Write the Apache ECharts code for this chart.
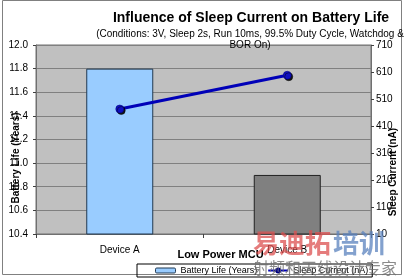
<!DOCTYPE html>
<html><head><meta charset="utf-8">
<script src="https://cdn.jsdelivr.net/npm/echarts@6/dist/echarts.min.js"></script>
<style>html,body{margin:0;padding:0;background:#fff}#c{width:404px;height:279px}</style>
</head><body><div id="c"></div>
<script>
const categories = ['Device A', 'Device B'];
const batteryLife = [11.8, 10.9];
const sleepCurrent = [473, 598];
const barColors = ['#99ccff', '#808080'];
const barBorders = ['#203850', '#202020'];

const chart = echarts.init(document.getElementById('c'), null, {renderer: 'canvas'});
const F = 'Liberation Sans, Arial, sans-serif';
chart.setOption({
  animation: false,
  backgroundColor: '#fff',
  textStyle: {fontFamily: F},
  title: [
    {text: 'Influence of Sleep Current on Battery Life', left: 246, top: 6, textAlign: 'center',
     textStyle: {fontSize: 14, fontWeight: 'bold', color: '#000', fontFamily: F}},
    {text: '(Conditions: 3V, Sleep 2s, Run 10ms, 99.5% Duty Cycle, Watchdog &\nBOR On)', left: 245, top: 24, textAlign: 'center',
     textStyle: {fontSize: 10, fontWeight: 'normal', color: '#000', lineHeight: 11, fontFamily: F}}
  ],
  grid: {left: 36, right: 33, top: 45, bottom: 45, containLabel: false, outerBoundsMode: 'none',
         show: true, backgroundColor: '#c0c0c0', borderColor: '#707070', borderWidth: 1},
  legend: {
    left: 137, top: 264, orient: 'horizontal', borderColor: '#000', borderWidth: 1, padding: [2, 4, 2, 18], itemGap: 10,
    itemWidth: 20, itemHeight: 5, textStyle: {fontSize: 9, color: '#000', fontFamily: F},
    data: [
      {name: 'Battery Life (Years)', itemStyle: {color: '#99ccff', borderColor: '#203850', borderWidth: 1}},
      {name: 'Sleep Current (nA)'}
    ]
  },
  xAxis: {
    type: 'category', data: categories, boundaryGap: true,
    axisLine: {show: true, lineStyle: {color: '#707070'}},
    axisTick: {show: true, inside: false, length: 4, lineStyle: {color: '#404040'}},
    axisLabel: {fontSize: 10, color: '#000', margin: 11},
    name: 'Low Power MCU', nameLocation: 'middle', nameGap: 15, nameMoveOverlap: false,
    nameTextStyle: {fontSize: 11, fontWeight: 'bold', color: '#000', padding: [0, 0, 0, 34]}
  },
  yAxis: [
    {type: 'value', min: 10.4, max: 12.0, interval: 0.2, position: 'left',
     axisLine: {show: true, lineStyle: {color: '#707070'}},
     axisTick: {show: true, inside: false, length: 3, lineStyle: {color: '#404040'}},
     axisLabel: {fontSize: 10, color: '#000', margin: 8, formatter: v => v.toFixed(1)},
     splitLine: {show: true, lineStyle: {color: '#808080', width: 1}}},
    {type: 'value', min: 10, max: 710, interval: 100, position: 'right',
     axisLine: {show: true, lineStyle: {color: '#707070'}},
     axisTick: {show: true, inside: false, length: 3, lineStyle: {color: '#404040'}},
     axisLabel: {fontSize: 10, color: '#000', margin: 5},
     splitLine: {show: false}}
  ],
  series: [
    {name: 'Battery Life (Years)', type: 'bar', yAxisIndex: 0, barWidth: '40%',
     data: batteryLife.map((v, i) => ({value: v, itemStyle: {color: barColors[i], borderColor: barBorders[i], borderWidth: 1}})),
     itemStyle: {color: '#99ccff'}},
    {name: 'Sleep Current (nA)', type: 'line', yAxisIndex: 1, data: sleepCurrent,
     symbol: 'circle', symbolSize: 8,
     lineStyle: {color: '#0000b8', width: 3},
     itemStyle: {color: '#1010c0', borderColor: '#000080', borderWidth: 0.5, shadowColor: 'rgba(0,0,0,0.9)', shadowOffsetX: 1.5, shadowOffsetY: 1.5, shadowBlur: 0}}
  ],
  graphic: [
    {type: 'rect', shape: {x: 2.5, y: 0.5, width: 399, height: 274}, style: {fill: 'none', stroke: '#808080', lineWidth: 1}, silent: true, z: -1},
    {type: 'text', x: 16, y: 158, rotation: Math.PI / 2, z: 50,
     style: {text: 'Battery Life (Years)', font: 'bold 10px "Liberation Sans", Arial', fill: '#000', align: 'center', verticalAlign: 'middle'}},
    {type: 'text', x: 393, y: 172, rotation: Math.PI / 2, z: 50,
     style: {text: 'Sleep Current (nA)', font: 'bold 10px "Liberation Sans", Arial', fill: '#000', align: 'center', verticalAlign: 'middle'}},
    {type: 'text', left: 253, top: 230, style: {text: '易迪拓', font: 'bold 26px "Noto Sans CJK SC"', fill: 'rgba(220,80,80,0.75)'}, z: 100},
    {type: 'text', left: 333, top: 230, style: {text: '培训', font: 'bold 26px "Noto Sans CJK SC"', fill: 'rgba(90,130,190,0.75)'}, z: 100},
    {type: 'text', left: 253, top: 260, style: {text: '射频和天线设计专家', font: '16px "Noto Sans CJK SC"', fill: 'rgba(110,110,110,0.8)'}, z: 100}
  ]
});
</script></body></html>
